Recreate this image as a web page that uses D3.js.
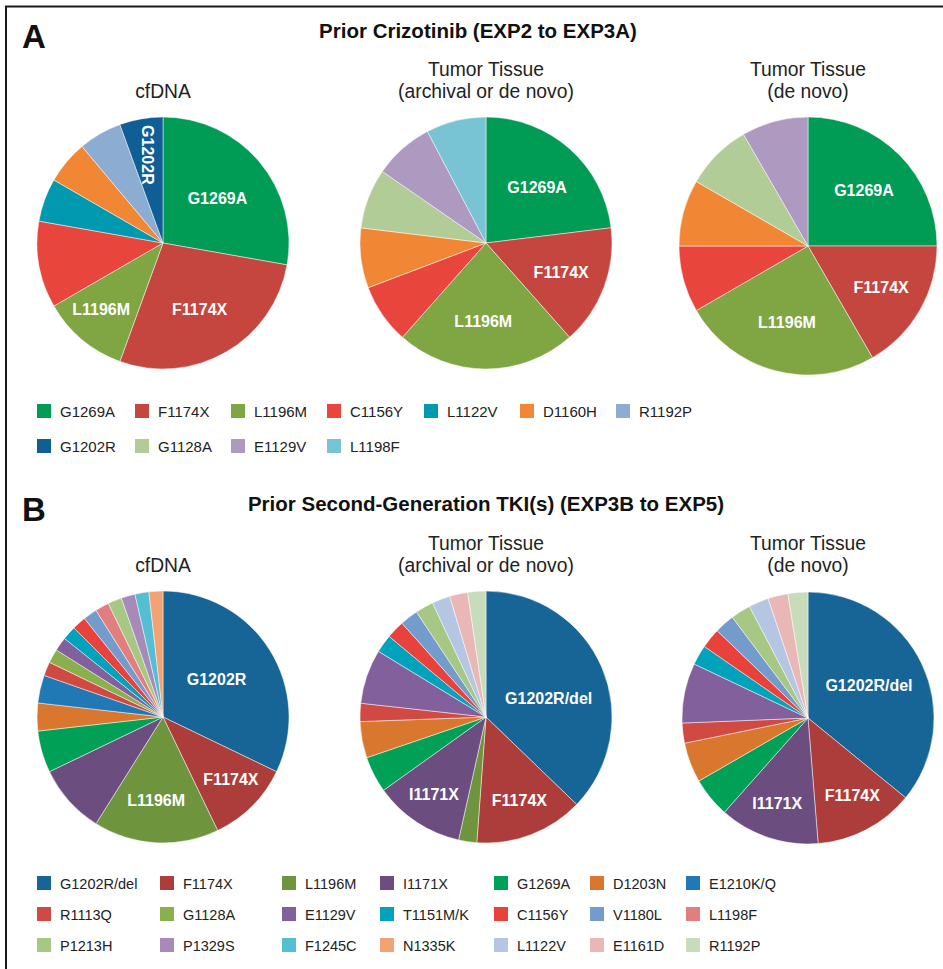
<!DOCTYPE html>
<html>
<head>
<meta charset="utf-8">
<script src="https://cdn.jsdelivr.net/npm/d3@7"></script>
<style>
  html, body { margin: 0; padding: 0; background: #fff; }
  svg { display: block; }
  text { font-family: "Liberation Sans", Arial, Helvetica, sans-serif; }
</style>
</head>
<body>
<div id="chart"></div>
<script>
// ---- Panel A: prior crizotinib ----
const catsA = ["G1269A", "F1174X", "L1196M", "C1156Y", "L1122V", "D1160H", "R1192P",
               "G1202R", "G1128A", "E1129V", "L1198F"];
const colorsA = ["#009c55", "#c4463f", "#7fa642", "#e8453c", "#0099b0", "#f18735", "#8dacd2",
                 "#105e96", "#b1cc97", "#ae99c1", "#79c4d4"];
const aCfDNA        = [5, 5, 2, 2, 1, 1, 1, 1, 0, 0, 0];
const aTissueAny    = [3, 2, 3, 1, 0, 1, 0, 0, 1, 1, 1];
const aTissueDeNovo = [3, 2, 3, 1, 0, 1, 0, 0, 1, 1, 0];

// ---- Panel B: prior second-generation TKI(s) ----
const catsB = ["G1202R/del", "F1174X", "L1196M", "I1171X", "G1269A", "D1203N", "E1210K/Q",
               "R1113Q", "G1128A", "E1129V", "T1151M/K", "C1156Y", "V1180L", "L1198F",
               "P1213H", "P1329S", "F1245C", "N1335K", "L1122V", "E1161D", "R1192P"];
const colorsB = ["#176497", "#ad3d3a", "#6e943d", "#6c4d80", "#00a056", "#d9772e", "#2079b4",
                 "#d04943", "#89b04c", "#82609c", "#00a3bb", "#e7433c", "#739bcb", "#e27f7e",
                 "#a6c884", "#a78aba", "#54bed2", "#f2a273", "#b4c6e2", "#eab7b7", "#c8dcbc"];
const bCfDNA        = [18, 6, 9, 5, 3, 2, 2, 1, 1, 1, 1, 1, 1, 1, 1, 1, 1, 1, 0, 0, 0];
const bTissueAny    = [16, 6, 1, 5, 2, 2, 0, 1, 0, 3, 1, 1, 1, 0, 1, 0, 0, 0, 1, 1, 1];
const bTissueDeNovo = [14, 5, 0, 5, 2, 2, 0, 1, 0, 3, 1, 1, 1, 0, 1, 0, 0, 0, 1, 1, 1];

const W = 943, H = 969;
const svg = d3.select("#chart").append("svg")
  .attr("width", W).attr("height", H);

svg.append("rect").attr("width", W).attr("height", H).attr("fill", "#fff");

// frame (top and left rules)
svg.append("path")
  .attr("d", "M6,969 V6.5 H943")
  .attr("fill", "none").attr("stroke", "#1a1a1a").attr("stroke-width", 2);

const pie = d3.pie().sort(null).value(d => d.v);

// Draws one pie; labels: {cat, text, rf, nudge, rotate}
function drawPie(cx, cy, r, cats, colors, values, labels) {
  const color = d3.scaleOrdinal().domain(cats).range(colors);
  const data = cats.map((c, i) => ({ c, v: values[i] })).filter(d => d.v > 0);
  const arcs = pie(data);
  const g = svg.append("g").attr("transform", `translate(${cx},${cy})`);
  const arc = d3.arc().innerRadius(0).outerRadius(r);
  g.selectAll("path.slice").data(arcs).join("path")
    .attr("class", "slice")
    .attr("d", arc)
    .attr("fill", d => color(d.data.c))
    .attr("stroke", "#fff").attr("stroke-width", 0.6).attr("stroke-opacity", 0.8);

  labels.forEach(l => {
    const a = arcs.find(d => d.data.c === l.cat);
    if (!a) return;
    const mid = (a.startAngle + a.endAngle) / 2 + (l.nudge || 0) * Math.PI / 180;
    const rr = r * l.rf;
    const x = Math.sin(mid) * rr, y = -Math.cos(mid) * rr;
    g.append("text")
      .attr("transform", `translate(${x},${y}) rotate(${l.rotate || 0})`)
      .attr("text-anchor", "middle")
      .attr("dy", "0.36em")
      .attr("fill", "#fff")
      .attr("font-weight", "bold")
      .attr("font-size", 16)
      .text(l.text);
  });
}

function heading(x, y, letter, title, titleX) {
  svg.append("text").attr("x", x).attr("y", y)
    .attr("font-size", 33).attr("font-weight", "bold").attr("fill", "#111")
    .text(letter);
  svg.append("text").attr("x", titleX).attr("y", y - 10)
    .attr("text-anchor", "middle")
    .attr("font-size", 20.5).attr("font-weight", "bold").attr("fill", "#111")
    .text(title);
}

function subtitles(y) {
  const cols = [
    { x: 163, lines: ["cfDNA"] },
    { x: 486, lines: ["Tumor Tissue", "(archival or de novo)"] },
    { x: 808, lines: ["Tumor Tissue", "(de novo)"] }
  ];
  cols.forEach(c => {
    const n = c.lines.length;
    c.lines.forEach((t, i) => {
      svg.append("text")
        .attr("x", c.x).attr("y", y - (n - 1 - i) * 22)
        .attr("text-anchor", "middle")
        .attr("font-size", 19.3).attr("fill", "#222")
        .text(t);
    });
  });
}

function legend(cats, colors, colX, rowY, perRow, fontSize) {
  cats.forEach((c, i) => {
    const col = i % perRow, row = Math.floor(i / perRow);
    const x = colX[col], y = rowY[row];
    svg.append("rect").attr("x", x).attr("y", y - 7).attr("width", 14).attr("height", 14)
      .attr("fill", colors[i]);
    svg.append("text").attr("x", x + 23).attr("y", y + 5.5)
      .attr("font-size", fontSize).attr("fill", "#222")
      .text(c);
  });
}

// ---- Panel A ----
heading(22, 48, "A", "Prior Crizotinib (EXP2 to EXP3A)", 478);
subtitles(98);

drawPie(163, 243, 126, catsA, colorsA, aCfDNA, [
  { cat: "G1269A", text: "G1269A", rf: 0.56, nudge: 0.5 },
  { cat: "F1174X", text: "F1174X", rf: 0.60, nudge: 1 },
  { cat: "L1196M", text: "L1196M", rf: 0.72, nudge: 3 },
  { cat: "G1202R", text: "G1202R", rf: 0.71, nudge: 0, rotate: 90 }
]);
drawPie(486, 243, 126, catsA, colorsA, aTissueAny, [
  { cat: "G1269A", text: "G1269A", rf: 0.60, nudge: 1 },
  { cat: "F1174X", text: "F1174X", rf: 0.64, nudge: 0.4 },
  { cat: "L1196M", text: "L1196M", rf: 0.62, nudge: 2 }
]);
drawPie(808, 246, 129, catsA, colorsA, aTissueDeNovo, [
  { cat: "G1269A", text: "G1269A", rf: 0.61, nudge: 0.3 },
  { cat: "F1174X", text: "F1174X", rf: 0.65, nudge: -0.7 },
  { cat: "L1196M", text: "L1196M", rf: 0.61, nudge: 0.5 }
]);

legend(catsA, colorsA, [37, 135, 231, 327, 424, 520, 616], [411, 446], 7, 15);

// ---- Panel B ----
heading(22, 521, "B", "Prior Second-Generation TKI(s) (EXP3B to EXP5)", 486);
subtitles(572);

drawPie(163, 717, 126, catsB, colorsB, bCfDNA, [
  { cat: "G1202R/del", text: "G1202R", rf: 0.52, nudge: -3 },
  { cat: "F1174X", text: "F1174X", rf: 0.73, nudge: -2.6 },
  { cat: "L1196M", text: "L1196M", rf: 0.66, nudge: 1.5 }
]);
drawPie(486, 717, 126, catsB, colorsB, bTissueAny, [
  { cat: "G1202R/del", text: "G1202R/del", rf: 0.52, nudge: 6 },
  { cat: "F1174X", text: "F1174X", rf: 0.71, nudge: -1 },
  { cat: "I1171X", text: "I1171X", rf: 0.74, nudge: 0.4 }
]);
drawPie(808, 718, 126, catsB, colorsB, bTissueDeNovo, [
  { cat: "G1202R/del", text: "G1202R/del", rf: 0.55, nudge: -3 },
  { cat: "F1174X", text: "F1174X", rf: 0.71, nudge: -2 },
  { cat: "I1171X", text: "I1171X", rf: 0.72, nudge: 1.4 }
]);

legend(catsB, colorsB, [37, 160, 282, 380, 494, 590, 686], [883, 914, 945], 7, 14.5);
</script>
</body>
</html>
